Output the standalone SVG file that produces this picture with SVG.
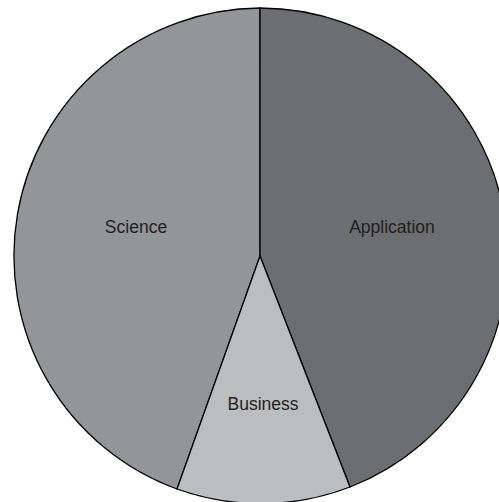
<svg xmlns="http://www.w3.org/2000/svg" width="499" height="502" viewBox="0 0 499 502">
  <style>
    .slice { stroke: #000; stroke-width: 1.3; stroke-linejoin: miter; }
    .label { font-family: "Liberation Sans", Arial, sans-serif; font-size: 17.5px; fill: #231f20; text-anchor: middle; }
  </style>
  <rect width="499" height="502" fill="#fff"/>
  <!-- pie centre (260,256), radius 248 -->
  <g id="science">
    <path class="slice" fill="#939598" d="M260,256 L260,8 A248,248 0 0 0 177,489 Z"/>
    <text class="label" x="136" y="233">Science</text>
  </g>
  <g id="application">
    <path class="slice" fill="#6d6e71" d="M260,256 L260,8 A248,248 0 0 1 350,487 Z"/>
    <text class="label" x="392" y="233">Application</text>
  </g>
  <g id="business">
    <path class="slice" fill="#bcbdc0" d="M260,256 L350,487 A248,248 0 0 1 177,489 Z"/>
    <text class="label" x="263" y="410">Business</text>
  </g>
</svg>
